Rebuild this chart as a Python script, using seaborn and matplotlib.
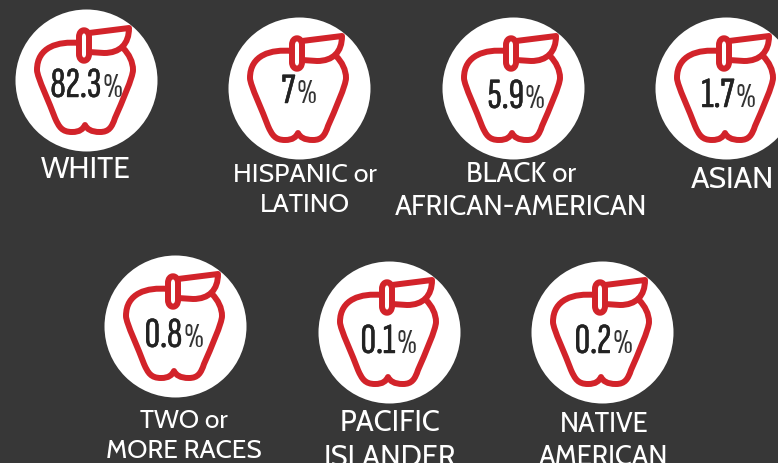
import matplotlib
matplotlib.use("Agg")
import matplotlib.pyplot as plt
import matplotlib.font_manager as fm
import matplotlib.patheffects as pe
import seaborn as sns
import pandas as pd
from matplotlib.path import Path
from matplotlib.patches import PathPatch
from matplotlib.transforms import Affine2D

groups = ["WHITE", "HISPANIC or\nLATINO", "BLACK or\nAFRICAN-AMERICAN", "ASIAN",
          "TWO or\nMORE RACES", "PACIFIC\nISLANDER", "NATIVE\nAMERICAN"]
shares = [82.3, 7, 5.9, 1.7, 0.8, 0.1, 0.2]

# layout, in pixels of the 778x463 picture
centre_x = [86, 299, 513, 726, 175, 389, 602]
centre_y = [80, 88, 88, 88, 326, 332, 332]
number_x = [86, 298.5, 516, 728, 173.5, 388, 603]
number_base = [97, 103, 108, 107, 347, 353, 353]
label_x = [85.5, 305, 521, 732, 184, 390, 604]
label_y = [170, 190, 191.5, 180, 436, 440.5, 441.5]
label_pt = [21.6, 19.2, 19.8, 21.7, 18.9, 20.9, 19.6]

BG = "#373737"
RED = "#d2232a"

sns.set_theme(style="white")
installed = {f.name for f in fm.fontManager.ttflist}
def pick(options):
    return [n for n in options if n in installed][:1] + ["DejaVu Sans"]
LABEL = pick(["Cabin", "Gillius ADF", "Lato"])
NUM = pick(["Sofia Sans Extra Condensed", "Sofia Sans Condensed", "Saira ExtraCondensed"])
plt.rcParams["font.family"] = LABEL
fig = plt.figure(figsize=(7.78, 4.63), dpi=100, facecolor=BG)
ax = fig.add_axes([0, 0, 1, 1])
ax.set_facecolor(BG)

df = pd.DataFrame({"x": centre_x, "y": centre_y})
sns.scatterplot(data=df, x="x", y="y", s=(142 * 0.72) ** 2, color="white",
                linewidth=0, ax=ax, legend=False, zorder=1)
ax.set_xlim(0, 778)
ax.set_ylim(463, 0)
ax.axis("off")

M, L, C, Z = Path.MOVETO, Path.LINETO, Path.CURVE4, Path.CLOSEPOLY
# apple outline relative to the circle centre, in pixels
body = [(M, (-7, -37)), (C, (-28, -39)), (C, (-49, -33)), (C, (-49, -10)),
        (C, (-49, -3)), (C, (-36, 24)), (C, (-31, 38)),
        (C, (-27, 47)), (C, (-24, 52)), (C, (-14, 52)),
        (C, (-6, 52)), (C, (-3, 49)), (C, (-1, 45)),
        (C, (1, 49)), (C, (5, 52)), (C, (14, 52)),
        (C, (23, 52)), (C, (26, 47)), (C, (29, 38)),
        (C, (36, 22)), (C, (47, -3)), (C, (47, -10)),
        (C, (47, -18)), (C, (43, -26)), (C, (37, -32))]
leaf = [(M, (3, -47)), (L, (43, -52)), (C, (43, -36)), (C, (34, -27)), (C, (18, -27)),
        (L, (3, -28))]
stem = [(M, (-7, -43)), (C, (-7, -52)), (C, (3, -52)), (C, (3, -43)),
        (L, (3, -26)), (C, (3, -17)), (C, (-7, -17)), (C, (-7, -26)), (Z, (-7, -43))]

for shape in (body, leaf, stem):
    codes = [c for c, _ in shape]
    verts = [v for _, v in shape]
    for cx, cy in zip(centre_x, centre_y):
        tr = Affine2D().translate(cx, cy) + ax.transData
        ax.add_patch(PathPatch(Path(verts, codes), fc="none", ec=RED, lw=4.3,
                               joinstyle="round", transform=tr, zorder=2))

fig.canvas.draw()
rend = fig.canvas.get_renderer()
heavy = [pe.withStroke(linewidth=0.35, foreground="#222222")]
for nx, base, v in zip(number_x, number_base, shares):
    t1 = ax.text(nx, base, f"{v:g}", family=NUM, fontsize=31, color="#222222",
                 ha="left", va="baseline", zorder=3, path_effects=heavy)
    t2 = ax.text(nx, base, "%", family=NUM, fontsize=25, color="#333333",
                 ha="left", va="baseline", zorder=3)
    w1 = t1.get_window_extent(rend).width
    w2 = t2.get_window_extent(rend).width
    left = nx - (w1 + w2) / 2
    t1.set_x(left)
    t2.set_x(left + w1 + 1)

for x, y, s, pt in zip(label_x, label_y, groups, label_pt):
    ax.text(x, y, s, fontsize=pt, color="white", ha="center", va="center",
            linespacing=1.2, zorder=3)

fig.savefig("out.png", dpi=100, facecolor=BG)
